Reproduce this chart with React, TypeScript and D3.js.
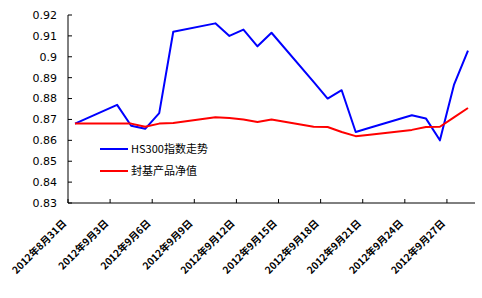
import React from "react";
import * as d3 from "d3";

const dates = [
  "2012-08-31", "2012-09-03", "2012-09-04", "2012-09-05", "2012-09-06", "2012-09-07",
  "2012-09-10", "2012-09-11", "2012-09-12", "2012-09-13", "2012-09-14",
  "2012-09-17", "2012-09-18", "2012-09-19", "2012-09-20", "2012-09-21",
  "2012-09-24", "2012-09-25", "2012-09-26", "2012-09-27", "2012-09-28",
];
const hs300 = [
  0.868, 0.877, 0.867, 0.8655, 0.873, 0.912,
  0.916, 0.910, 0.913, 0.905, 0.9115,
  0.888, 0.880, 0.884, 0.864, 0.866,
  0.872, 0.8705, 0.860, 0.8865, 0.903,
];
const fund = [
  0.868, 0.868, 0.868, 0.8665, 0.868, 0.8683,
  0.871, 0.8707, 0.870, 0.8688, 0.870,
  0.8665, 0.8664, 0.864, 0.862, 0.8627,
  0.865, 0.8664, 0.8665, 0.871, 0.8755,
];
const yTicks = [0.83, 0.84, 0.85, 0.86, 0.87, 0.88, 0.89, 0.9, 0.91, 0.92];
const yTickLabels = ["0.83", "0.84", "0.85", "0.86", "0.87", "0.88", "0.89", "0.9", "0.91", "0.92"];
const xLabelDates = [
  "2012-08-31", "2012-09-03", "2012-09-06", "2012-09-09", "2012-09-12",
  "2012-09-15", "2012-09-18", "2012-09-21", "2012-09-24", "2012-09-27",
];
const xLabels = [
  "2012年8月31日", "2012年9月3日", "2012年9月6日", "2012年9月9日", "2012年9月12日",
  "2012年9月15日", "2012年9月18日", "2012年9月21日", "2012年9月24日", "2012年9月27日",
];
const seriesNames = ["HS300指数走势", "封基产品净值"];
const seriesColors = ["#0000ff", "#ff0000"];

const parse = d3.timeParse("%Y-%m-%d");

export default function App() {
  const W = 482, H = 298;
  const left = 68, right = 475, top = 15, bottom = 203;
  const start = parse("2012-08-31") as Date;
  const end = parse("2012-09-29") as Date;
  const x = d3.scaleTime().domain([start, end]).range([left, right]);
  const y = d3.scaleLinear().domain([0.83, 0.92]).range([bottom, top]);
  const mid = (s: string) => d3.timeHour.offset(parse(s) as Date, 12);
  const line = d3.line<[string, number]>().x((d) => x(mid(d[0]))).y((d) => y(d[1]));
  const series = [hs300, fund];
  const tickDates = d3.timeDay.range(start, d3.timeDay.offset(end, 1), 1).filter((d) => d3.timeDay.count(start, d) % 3 === 0 && d <= end);

  return (
    <svg width={W} height={H} style={{ position: "absolute", left: 0, top: 0, background: "#fff" }}>
      <rect x={0} y={0} width={W} height={H} fill="#fff" />
      {series.map((s, i) => (
        <path key={i} d={line(dates.map((d, j) => [d, s[j]]) as [string, number][]) || ""}
          fill="none" stroke={seriesColors[i]} strokeWidth={2} strokeLinejoin="round" />
      ))}
      <line x1={left} y1={top} x2={left} y2={bottom} stroke="#000" strokeWidth={1} />
      <line x1={left} y1={bottom} x2={right} y2={bottom} stroke="#000" strokeWidth={1} />
      {yTicks.map((t, i) => (
        <g key={i}>
          <line x1={left} x2={left + 4} y1={y(t)} y2={y(t)} stroke="#000" />
          <text x={57} y={y(t)} dy="0.35em" textAnchor="end" fontFamily="DejaVu Sans" fontSize={11} fill="#000">
            {yTickLabels[i]}
          </text>
        </g>
      ))}
      {tickDates.map((d, i) => (
        <line key={i} x1={x(d)} x2={x(d)} y1={bottom} y2={bottom - 4} stroke="#000" />
      ))}
      {xLabelDates.map((d, i) => {
        const px = x(mid(d)) - 8;
        const py = 224;
        return (
          <text key={i} x={px} y={py} transform={`rotate(-45 ${px} ${py})`} textAnchor="end"
            fontFamily="Noto Sans CJK SC" fontSize={10} fontWeight="bold" fill="#000">
            {xLabels[i]}
          </text>
        );
      })}
      {seriesNames.map((n, i) => (
        <g key={i}>
          <line x1={100} x2={128} y1={149 + i * 22} y2={149 + i * 22} stroke={seriesColors[i]} strokeWidth={2} />
          <text x={131} y={149 + i * 22} dy="0.35em" fontFamily="Noto Sans CJK SC" fontSize={11} fill="#000">
            {n}
          </text>
        </g>
      ))}
    </svg>
  );
}
